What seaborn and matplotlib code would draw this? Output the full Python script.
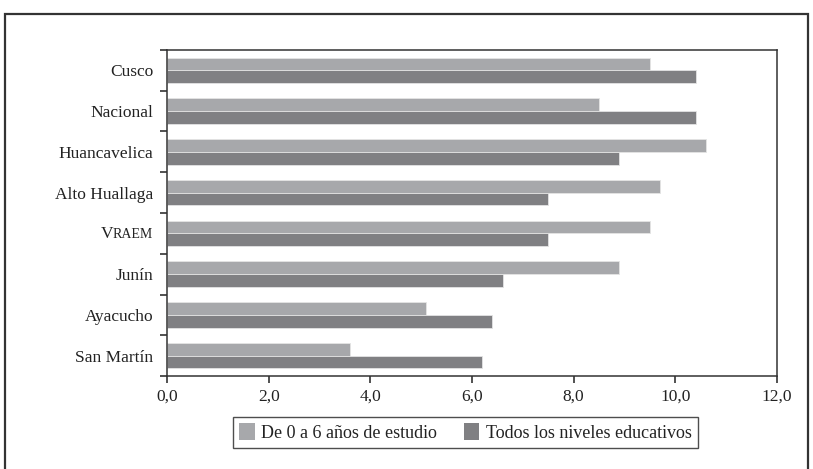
import matplotlib
matplotlib.use("Agg")
import matplotlib.pyplot as plt
from matplotlib.patches import Patch, Rectangle
import seaborn as sns
import pandas as pd

regiones = ["Cusco", "Nacional", "Huancavelica", "Alto Huallaga", "VRAEM",
            "Junín", "Ayacucho", "San Martín"]
de_0_a_6 = [9.5, 8.5, 10.6, 9.7, 9.5, 8.9, 5.1, 3.6]
todos_niveles = [10.4, 10.4, 8.9, 7.5, 7.5, 6.6, 6.4, 6.2]
series = ["De 0 a 6 años de estudio", "Todos los niveles educativos"]
x_ticks = [0, 2, 4, 6, 8, 10, 12]
x_labels = ["0,0", "2,0", "4,0", "6,0", "8,0", "10,0", "12,0"]

colores = ["#a7a8ab", "#808083"]

df = pd.DataFrame({
    "region": regiones * 2,
    "valor": de_0_a_6 + todos_niveles,
    "serie": [series[0]] * len(regiones) + [series[1]] * len(regiones),
})

sns.set_theme(style="white")
plt.rcParams["font.family"] = ["Liberation Serif", "DejaVu Serif"]

W, H = 813, 469
TXT = "#222222"
FS = 12.5

fig = plt.figure(figsize=(W / 100, H / 100), dpi=100)
ax = fig.add_axes([167 / W, 1 - 376 / H, (777 - 167) / W, (376 - 50) / H])

sns.barplot(data=df, y="region", x="valor", hue="serie", order=regiones,
            hue_order=series, palette=colores, orient="h", width=0.63,
            edgecolor="#e4e4e4", linewidth=0.6, saturation=1, legend=False, ax=ax)

ax.set_xlim(0, 12)
ax.set_ylim(len(regiones) - 0.5, -0.5)
ax.set_xlabel("")
ax.set_ylabel("")

# x axis
ax.set_xticks(x_ticks)
ax.set_xticklabels(x_labels, fontsize=FS, color=TXT)
ax.tick_params(axis="x", bottom=True, direction="out", length=5, width=1.1,
               color=TXT, pad=4)

# y axis: ticks at the group boundaries, labels at the group centres
ax.set_yticks([i - 0.5 for i in range(len(regiones) + 1)])
ax.set_yticklabels([])
ax.set_yticks(range(len(regiones)), minor=True)
etiquetas = [("" if r == "VRAEM" else r) for r in regiones]
ax.set_yticklabels(etiquetas, minor=True, fontsize=FS, color=TXT)
ax.tick_params(axis="y", which="major", left=True, direction="out", length=5,
               width=1.1, color=TXT)
ax.tick_params(axis="y", which="minor", left=False, length=0, pad=10)

for s in ax.spines.values():
    s.set_color("#333333")
    s.set_linewidth(1.1)
    s.set_visible(True)

# small-caps label for VRAEM
idx = regiones.index("VRAEM")
fig.canvas.draw()
ref = ax.get_yticklabels(minor=True)[0].get_window_extent()
right_px = ref.x1
y_base = ax.transData.transform((0, idx))[1] - 4.8
t2 = fig.text(right_px / W, y_base / H, "RAEM", fontsize=FS * 0.8, color=TXT,
              ha="right", va="baseline")
fig.canvas.draw()
bb = t2.get_window_extent()
fig.text(bb.x0 / W, y_base / H, "V", fontsize=FS, color=TXT,
         ha="right", va="baseline")

# legend
handles = [Patch(facecolor=c, edgecolor="none") for c in colores]
leg = fig.legend(handles, series, loc="center",
                 bbox_to_anchor=(465.5 / W, 1 - 432.5 / H),
                 ncol=2, frameon=True, fancybox=False, fontsize=13,
                 handlelength=0.85, handleheight=1.0, handletextpad=0.35,
                 columnspacing=1.5, borderpad=0.35, edgecolor=TXT)
leg.get_frame().set_linewidth(1.0)
for t in leg.get_texts():
    t.set_color(TXT)

# outer frame of the figure
fig.patches.append(Rectangle((5 / W, -0.05), (808 - 5) / W, 1 - 14 / H + 0.05,
                             transform=fig.transFigure, fill=False,
                             edgecolor="#333333", linewidth=1.6, figure=fig))

fig.savefig("out.png", dpi=100, facecolor="white")
